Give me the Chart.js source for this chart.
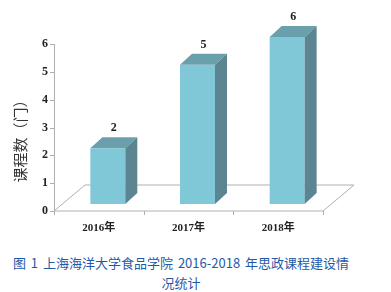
<!DOCTYPE html>
<html>
<head>
<meta charset="utf-8">
<script src="https://cdn.jsdelivr.net/npm/chart.js@4/dist/chart.umd.min.js"></script>
<style>
  body { margin: 0; background: #fff; }
  #wrap { position: relative; width: 391px; height: 292px; }
  #chart { position: absolute; left: 0; top: 0; }
  #caption {
    position: absolute; left: 0; top: 253px; width: 362px;
    text-align: center; color: #1f5aa8;
    font: 13px 'Noto Sans CJK SC', sans-serif; line-height: 20px;
    word-spacing: 2px;
  }
</style>
</head>
<body>
<div id="wrap">
  <canvas id="chart" width="391" height="240"></canvas>
  <div id="caption">图 1 上海海洋大学食品学院 2016-2018 年思政课程建设情<br>况统计</div>
</div>
<script>
const years = ['2016年', '2017年', '2018年'];
const courses = [2, 5, 6];
const yTicks = [0, 1, 2, 3, 4, 5, 6];
const yTitle = '课程数（门）';

// 3D look
const FRONT = '#80c8d8';
const TOP = '#6aa0ac';
const SIDE = '#5c8592';
const AXIS = '#b0b0b0';
const shift = { dx: 9, dy: -7 };   // front face sits a bit back on the floor
const depth = { dx: 12, dy: -11 };  // bar depth
const floorDepth = { dx: 31, dy: -26 };
const serifBold = "bold 12px 'Liberation Serif', 'Noto Sans CJK SC', serif";

const draw3d = {
  id: 'draw3d',
  beforeDatasetsDraw(chart) {
    const { ctx, chartArea: a, scales: { x, y } } = chart;
    const y0 = y.getPixelForValue(0);
    ctx.save();
    ctx.strokeStyle = AXIS;
    ctx.lineWidth = 1;
    // floor
    ctx.beginPath();
    ctx.moveTo(a.left, y0);
    ctx.lineTo(a.left + floorDepth.dx, y0 + floorDepth.dy);
    ctx.lineTo(a.right + floorDepth.dx, y0 + floorDepth.dy);
    ctx.lineTo(a.right, y0);
    ctx.lineTo(a.left, y0);
    ctx.stroke();
    // y axis + ticks
    ctx.beginPath();
    ctx.moveTo(a.left + 0.5, y.getPixelForValue(yTicks[yTicks.length - 1]));
    ctx.lineTo(a.left + 0.5, y0);
    yTicks.forEach(t => {
      const py = Math.round(y.getPixelForValue(t)) + 0.5;
      ctx.moveTo(a.left - 4, py);
      ctx.lineTo(a.left + 0.5, py);
    });
    // x ticks
    for (let i = 0; i <= years.length; i++) {
      const px = Math.round(a.left + (a.right - a.left) * i / years.length) + 0.5;
      ctx.moveTo(px, y0);
      ctx.lineTo(px, y0 + 4);
    }
    ctx.stroke();

    ctx.fillStyle = '#222';
    ctx.font = serifBold;
    ctx.textAlign = 'right';
    ctx.textBaseline = 'middle';
    yTicks.forEach(t => ctx.fillText(String(t), a.left - 6, y.getPixelForValue(t)));
    ctx.textAlign = 'center';
    ctx.textBaseline = 'top';
    ctx.font = "bold 11px 'Liberation Serif', 'Noto Sans CJK SC', serif";
    years.forEach((lab, i) => ctx.fillText(lab, x.getPixelForValue(i), y0 + 12));

    ctx.save();
    ctx.translate(20, (a.top + y0) / 2 + 10);
    ctx.rotate(-Math.PI / 2);
    ctx.font = "15px 'Noto Sans CJK SC', sans-serif";
    ctx.fillStyle = '#333';
    ctx.textBaseline = 'middle';
    ctx.fillText(yTitle, 0, 0);
    ctx.restore();
    ctx.restore();
  },
  afterDatasetsDraw(chart) {
    const { ctx } = chart;
    const meta = chart.getDatasetMeta(0);
    ctx.save();
    meta.data.forEach((bar, i) => {
      const l = bar.x - bar.width / 2 + shift.dx;
      const r = bar.x + bar.width / 2 + shift.dx;
      const t = bar.y + shift.dy;
      const b = bar.base + shift.dy;
      ctx.fillStyle = FRONT;
      ctx.fillRect(l, t, r - l, b - t);
      ctx.fillStyle = TOP;
      ctx.beginPath();
      ctx.moveTo(l, t);
      ctx.lineTo(l + depth.dx, t + depth.dy);
      ctx.lineTo(r + depth.dx, t + depth.dy);
      ctx.lineTo(r, t);
      ctx.closePath();
      ctx.fill();
      ctx.fillStyle = SIDE;
      ctx.beginPath();
      ctx.moveTo(r, t);
      ctx.lineTo(r + depth.dx, t + depth.dy);
      ctx.lineTo(r + depth.dx, b + depth.dy);
      ctx.lineTo(r, b);
      ctx.closePath();
      ctx.fill();
      ctx.fillStyle = '#222';
      ctx.font = serifBold;
      ctx.textAlign = 'center';
      ctx.textBaseline = 'bottom';
      ctx.fillText(String(courses[i]), (l + r + depth.dx) / 2, t + depth.dy - 3);
    });
    ctx.restore();
  }
};

new Chart(document.getElementById('chart').getContext('2d'), {
  type: 'bar',
  data: {
    labels: years,
    datasets: [{
      data: courses,
      backgroundColor: 'rgba(0,0,0,0)',
      categoryPercentage: 1,
      barPercentage: 0.39
    }]
  },
  options: {
    responsive: false,
    animation: false,
    layout: { padding: { left: 54, right: 68, top: 44, bottom: 29 } },
    scales: {
      x: { display: false },
      y: { display: false, min: 0, max: 6 }
    },
    plugins: { legend: { display: false }, tooltip: { enabled: false } }
  },
  plugins: [draw3d]
});
</script>
</body>
</html>
